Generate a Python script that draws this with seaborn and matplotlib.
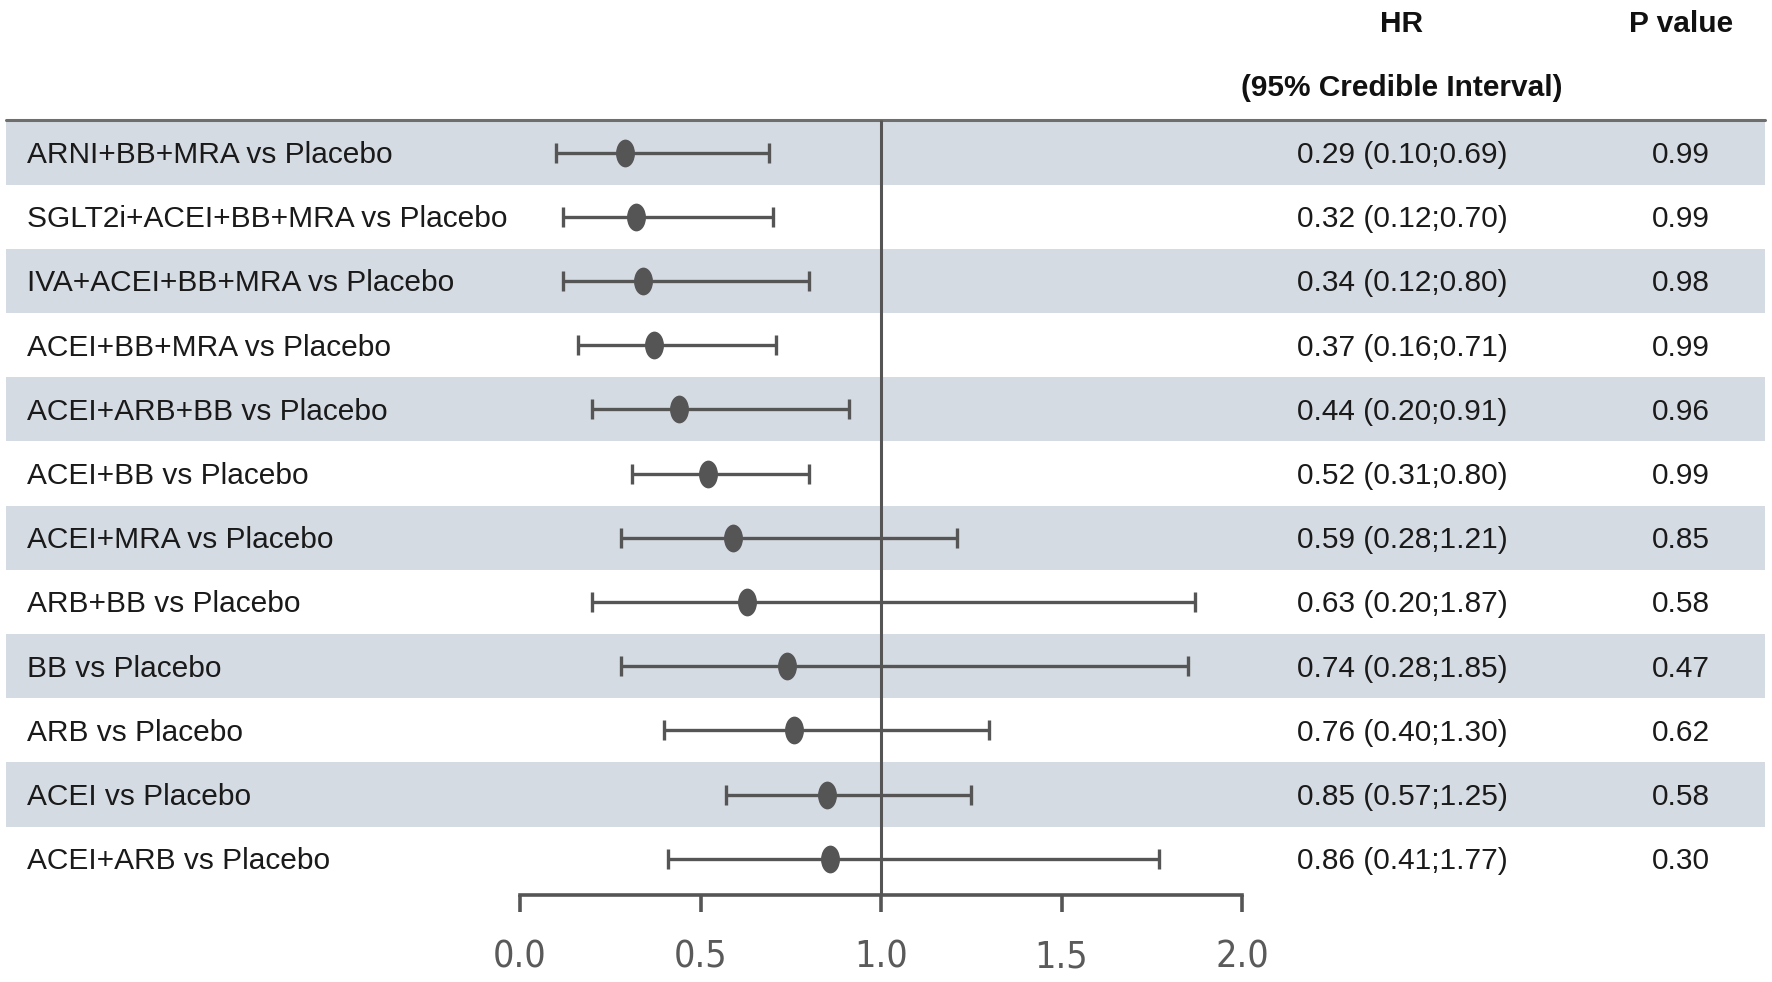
import numpy as np
import pandas as pd
import matplotlib
matplotlib.use("Agg")
import matplotlib.pyplot as plt
from matplotlib.markers import MarkerStyle
from matplotlib.transforms import Affine2D
import seaborn as sns

comparisons = ["ARNI+BB+MRA vs Placebo", "SGLT2i+ACEI+BB+MRA vs Placebo",
               "IVA+ACEI+BB+MRA vs Placebo", "ACEI+BB+MRA vs Placebo",
               "ACEI+ARB+BB vs Placebo", "ACEI+BB vs Placebo",
               "ACEI+MRA vs Placebo", "ARB+BB vs Placebo", "BB vs Placebo",
               "ARB vs Placebo", "ACEI vs Placebo", "ACEI+ARB vs Placebo"]
hr = [0.29, 0.32, 0.34, 0.37, 0.44, 0.52, 0.59, 0.63, 0.74, 0.76, 0.85, 0.86]
lower = [0.10, 0.12, 0.12, 0.16, 0.20, 0.31, 0.28, 0.20, 0.28, 0.40, 0.57, 0.41]
upper = [0.69, 0.70, 0.80, 0.71, 0.91, 0.80, 1.21, 1.87, 1.85, 1.30, 1.25, 1.77]
p_values = [0.99, 0.99, 0.98, 0.99, 0.96, 0.99, 0.85, 0.58, 0.47, 0.62, 0.58, 0.30]
x_ticks = [0.0, 0.5, 1.0, 1.5, 2.0]

df = pd.DataFrame({"label": comparisons, "hr": hr, "lo": lower, "hi": upper, "p": p_values})
df["row"] = np.arange(len(df))

sns.set_style("white")
plt.rcParams['font.family'] = ['Liberation Sans', 'DejaVu Sans']

W, H = 1772, 982
fig = plt.figure(figsize=(W / 100, H / 100), dpi=100)
ax = fig.add_axes([0, 0, 1, 1])

# pixel layout -> data coords (x: 0.0 at px 520, 1 unit = 361 px; rows: 152.5 + 64.2*i)
x0, xs = 520, 361
y0, ys = 152.5, 64.2
ax.set_xlim(-x0 / xs, (W - x0) / xs)
ax.set_ylim((H - y0) / ys, -y0 / ys)
ax.set_facecolor("white")

band_l, band_r = 6 / W, 1765 / W
grey = "#555555"

# alternating bands
for r in df["row"]:
    if r % 2 == 0:
        ax.axhspan(r - 0.5, r + 0.5, xmin=band_l, xmax=band_r, color="#d5dbe3", lw=0, zorder=0)

# header line
ax.axhline(-0.5, xmin=band_l, xmax=band_r, color="#6e6e6e", lw=2.2, zorder=1)

axis_y = (895 - y0) / ys
ax.vlines(1.0, -0.5, axis_y, color=grey, lw=2.2, zorder=2)

# CIs
ax.errorbar(df["hr"], df["row"], xerr=[df["hr"] - df["lo"], df["hi"] - df["hr"]],
            fmt="none", ecolor=grey, elinewidth=2.4, capsize=7, capthick=2.4, zorder=3)

ell = MarkerStyle("o", transform=Affine2D().scale(0.68, 1.0))
sns.scatterplot(data=df, x="hr", y="row", marker=ell, s=400, color=grey,
                linewidth=0, ax=ax, zorder=4, legend=False)

# text columns
fs = 21.5
dy = 0.04
for _, rw in df.iterrows():
    yy = rw["row"] + dy
    ax.text((27 - x0) / xs, yy, rw["label"], ha="left", va="center",
            fontsize=fs, color="#1a1a1a")
    ax.text((1402 - x0) / xs, yy, f"{rw['hr']:.2f} ({rw['lo']:.2f};{rw['hi']:.2f})",
            ha="center", va="center", fontsize=fs, color="#1a1a1a")
    ax.text((1681 - x0) / xs, yy, f"{rw['p']:.2f}", ha="center", va="center",
            fontsize=fs, color="#1a1a1a")

ax.text((1402 - x0) / xs, (24 - y0) / ys, "HR", ha="center", va="center",
        fontsize=fs, fontweight="bold", color="#111111")
ax.text((1402 - x0) / xs, (88 - y0) / ys, "(95% Credible Interval)", ha="center", va="center",
        fontsize=fs, fontweight="bold", color="#111111")
ax.text((1681 - x0) / xs, (24 - y0) / ys, "P value", ha="center", va="center",
        fontsize=fs, fontweight="bold", color="#111111")

# x axis
for s in ["top", "left", "right"]:
    ax.spines[s].set_visible(False)
ax.spines["bottom"].set_position(("data", axis_y))
ax.spines["bottom"].set_bounds(0, 2)
ax.spines["bottom"].set_color(grey)
ax.spines["bottom"].set_linewidth(2.6)
ax.set_xticks(x_ticks)
ax.set_xticklabels([f"{t:.1f}" for t in x_ticks], fontsize=27, color="#5a5a5a",
                   family="DejaVu Sans", fontstretch="condensed", fontweight="light")
ax.tick_params(axis="x", direction="out", length=12, width=2.6, color=grey, pad=20, bottom=True)
ax.set_yticks([])
ax.set_xlabel("")
ax.set_ylabel("")

fig.savefig("out.png", dpi=100)
